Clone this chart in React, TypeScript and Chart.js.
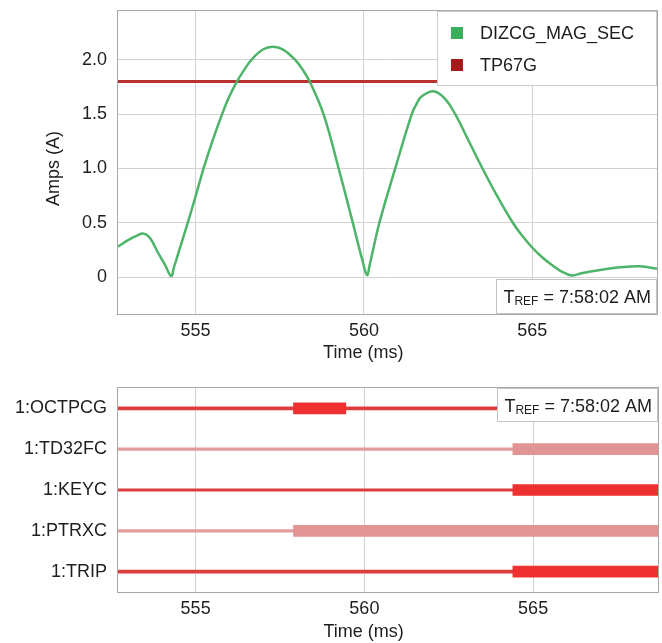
import React, { useEffect, useRef } from "react";
import { Chart, registerables } from "chart.js";

Chart.register(...registerables);

// ---------- data ----------
const timeMs = [
  552.7, 553.0, 553.25, 553.46, 553.65, 553.86, 554.1, 554.28, 554.36, 554.77,
  555.0, 555.24, 555.5, 555.79, 556.0, 556.23, 556.45, 556.66, 557.0, 557.3,
  557.6, 557.96, 558.18, 558.39, 558.8, 559.25, 559.67, 559.95, 560.09, 560.17,
  560.46, 560.93, 561.42, 561.57, 561.72, 562.07, 562.41, 562.71, 563.1, 563.52,
  563.95, 564.42, 564.7, 565.0, 565.3, 565.63, 565.82, 566.17, 566.45, 566.81,
  567.3, 567.8, 568.2, 568.7,
];
const dizcgMagSec = [
  0.28, 0.34, 0.38, 0.4, 0.36, 0.24, 0.11, 0.01, 0.09, 0.5,
  0.74, 1.0, 1.25, 1.5, 1.66, 1.8, 1.91, 2.0, 2.095, 2.12,
  2.095, 2.0, 1.91, 1.8, 1.5, 1.0, 0.5, 0.16, 0.02, 0.11,
  0.5, 1.0, 1.5, 1.6, 1.665, 1.71, 1.64, 1.5, 1.26, 1.0,
  0.75, 0.5, 0.38, 0.27, 0.18, 0.1, 0.06, 0.015, 0.035, 0.055,
  0.08, 0.095, 0.1, 0.077,
];
const tp67gLevel = 1.8;
const seriesNames = ["DIZCG_MAG_SEC", "TP67G"];
const timeRange = [552.7, 568.7];
const timeTicks = [555, 560, 565];
const ampRange = [-0.34, 2.45];
const ampTicks = [0, 0.5, 1.0, 1.5, 2.0];
const signalNames = ["1:OCTPCG", "1:TD32FC", "1:KEYC", "1:PTRXC", "1:TRIP"];
const assertStart = [557.9, 564.4, 564.4, 557.9, 564.4];
const assertEnd = [559.45, 568.7, 568.7, 568.7, 568.7];
const trefTime = "7:58:02 AM";
const xTitle = "Time (ms)";
const yTitle = "Amps (A)";

// ---------- styles ----------
const FONT = "'Liberation Sans', Arial, Helvetica, sans-serif";
const TEXT = "#1e1e1e";
const GRID = "#d2d2d2";
const FRAME = "#a8a8a8";
const GREEN_LINE = "#4db469";
const GREEN_KEY = "#3aae5c";
const RED_LINE = "#b83030";
const RED_KEY = "#a51a1a";
const SIG_RED_THIN = "#dc3d3d";
const SIG_RED_THICK = "#ee3030";
const SIG_PINK_THIN = "#e39c9c";
const SIG_PINK_THICK = "#e29494";
const signalPink = [false, true, false, true, false];
const signalHeavyBase = [true, false, false, false, true];

function drawFrame(ctx: CanvasRenderingContext2D, a: any) {
  ctx.save();
  ctx.strokeStyle = FRAME;
  ctx.lineWidth = 1;
  ctx.strokeRect(Math.round(a.left) - 0.5, Math.round(a.top) - 0.5, Math.round(a.width) + 1, Math.round(a.height) + 1);
  ctx.restore();
}

function drawTref(ctx: CanvasRenderingContext2D, right: number, top: number, h: number) {
  ctx.save();
  const big = `18px ${FONT}`;
  const small = `12px ${FONT}`;
  ctx.font = big;
  const wT = ctx.measureText("T").width;
  const rest = " = " + trefTime;
  const wRest = ctx.measureText(rest).width;
  ctx.font = small;
  const wSub = ctx.measureText("REF").width;
  const w = 7 + wT + wSub + wRest + 6;
  const left = right - w;
  ctx.fillStyle = "#ffffff";
  ctx.fillRect(left, top, w, h);
  ctx.strokeStyle = "#c4c4c4";
  ctx.lineWidth = 1;
  ctx.strokeRect(Math.round(left) + 0.5, Math.round(top) + 0.5, Math.round(w) - 1, Math.round(h) - 1);
  const base = top + h / 2 + 6.5;
  ctx.fillStyle = TEXT;
  ctx.textBaseline = "alphabetic";
  ctx.textAlign = "left";
  ctx.font = big;
  ctx.fillText("T", left + 7, base);
  ctx.font = small;
  ctx.fillText("REF", left + 7 + wT, base + 2);
  ctx.font = big;
  ctx.fillText(rest, left + 7 + wT + wSub, base);
  ctx.restore();
}

function drawXTitle(ctx: CanvasRenderingContext2D, a: any, y: number) {
  ctx.save();
  ctx.fillStyle = TEXT;
  ctx.font = `18px ${FONT}`;
  ctx.textAlign = "center";
  ctx.textBaseline = "middle";
  ctx.fillText(xTitle, a.left + a.width * 0.455, y);
  ctx.restore();
}

const topDecor = {
  id: "topDecor",
  afterDraw(chart: any) {
    const { ctx, chartArea: a } = chart;
    drawFrame(ctx, a);
    drawXTitle(ctx, a, a.bottom + 39);
    ctx.save();
    ctx.fillStyle = TEXT;
    ctx.font = `18px ${FONT}`;
    ctx.textAlign = "center";
    ctx.textBaseline = "middle";
    ctx.translate(54, a.top + a.height * 0.52);
    ctx.rotate(-Math.PI / 2);
    ctx.fillText(yTitle, 0, 0);
    ctx.restore();

    // legend box
    ctx.save();
    ctx.font = `18px ${FONT}`;
    const ds = chart.data.datasets;
    let tw = 0;
    ds.forEach((d: any) => (tw = Math.max(tw, ctx.measureText(d.label).width)));
    const w = 43 + tw + 23;
    const h = 75;
    const left = a.right - w;
    ctx.fillStyle = "#ffffff";
    ctx.fillRect(left, a.top, w, h);
    ctx.strokeStyle = "#cccccc";
    ctx.lineWidth = 1;
    ctx.strokeRect(Math.round(left) + 0.5, Math.round(a.top) + 0.5, Math.round(w) - 1, h - 1);
    ds.forEach((d: any, i: number) => {
      const cy = a.top + 22 + i * 32;
      ctx.fillStyle = d.keyColor;
      ctx.fillRect(left + 14, cy - 6, 12, 12);
      ctx.fillStyle = TEXT;
      ctx.textAlign = "left";
      ctx.textBaseline = "middle";
      ctx.fillText(d.label, left + 43, cy + 1);
    });
    ctx.restore();

    drawTref(ctx, a.right, a.bottom - 35, 35);
  },
};

const bottomDecor = {
  id: "bottomDecor",
  afterDraw(chart: any) {
    const { ctx, chartArea: a } = chart;
    drawFrame(ctx, a);
    drawXTitle(ctx, a, a.bottom + 40);
    drawTref(ctx, a.right, a.top, 34);
  },
};

const tickFont = { family: FONT, size: 18 };

const fixYWidth = (s: any) => {
  s.width = 118;
  s.paddingTop = 0;
  s.paddingBottom = 0;
};

function TopChart() {
  const ref = useRef<HTMLCanvasElement>(null);
  useEffect(() => {
    const chart = new Chart(ref.current as HTMLCanvasElement, {
      type: "line",
      data: {
        datasets: [
          {
            label: seriesNames[0],
            data: timeMs.map((t, i) => ({ x: t, y: dizcgMagSec[i] })),
            borderColor: GREEN_LINE,
            keyColor: GREEN_KEY,
            borderWidth: 2.5,
            pointRadius: 0,
            tension: 0.4,
            fill: false,
          } as any,
          {
            label: seriesNames[1],
            data: [
              { x: timeRange[0], y: tp67gLevel },
              { x: timeRange[1], y: tp67gLevel },
            ],
            borderColor: RED_LINE,
            keyColor: RED_KEY,
            borderWidth: 3,
            pointRadius: 0,
            fill: false,
          } as any,
        ],
      },
      options: {
        animation: false,
        responsive: false,
        layout: { padding: { left: 0, right: 5, top: 11, bottom: 0 } },
        plugins: { legend: { display: false }, tooltip: { enabled: false } },
        scales: {
          x: {
            type: "linear",
            min: timeRange[0],
            max: timeRange[1],
            afterBuildTicks: (s: any) => {
              s.ticks = timeTicks.map((v) => ({ value: v }));
            },
            afterFit: (s: any) => {
              s.height = 51;
            },
            grid: { color: GRID, drawTicks: false },
            border: { display: false },
            ticks: { font: tickFont, color: TEXT, padding: 6, maxRotation: 0, callback: (v: any) => String(v) },
          },
          y: {
            type: "linear",
            min: ampRange[0],
            max: ampRange[1],
            afterBuildTicks: (s: any) => {
              s.ticks = ampTicks.map((v) => ({ value: v }));
            },
            afterFit: fixYWidth,
            grid: { color: GRID, drawTicks: false },
            border: { display: false },
            ticks: {
              font: tickFont,
              color: TEXT,
              padding: 11,
              callback: (v: any) => (v === 0 ? "0" : Number(v).toFixed(1)),
            },
          },
        },
      },
      plugins: [topDecor],
    } as any);
    return () => chart.destroy();
  }, []);
  return <canvas ref={ref} width={662} height={365} style={{ display: "block" }} />;
}

function BottomChart() {
  const ref = useRef<HTMLCanvasElement>(null);
  useEffect(() => {
    const baseColors = signalPink.map((p) => (p ? SIG_PINK_THIN : SIG_RED_THIN));
    const chart = new Chart(ref.current as HTMLCanvasElement, {
      type: "bar",
      data: {
        labels: signalNames,
        datasets: [
          {
            label: "asserted",
            data: assertStart.map((s, i) => [s, assertEnd[i]]),
            backgroundColor: signalPink.map((p) => (p ? SIG_PINK_THICK : SIG_RED_THICK)),
            barThickness: 11,
            grouped: false,
            borderWidth: 0,
            borderSkipped: false,
          } as any,
          {
            label: "deasserted (heavy)",
            data: signalNames.map((_, i) => (signalHeavyBase[i] ? [timeRange[0], timeRange[1]] : null)),
            backgroundColor: baseColors,
            barThickness: 3,
            grouped: false,
            borderWidth: 0,
            borderSkipped: false,
          } as any,
          {
            label: "deasserted",
            data: signalNames.map((_, i) => (signalHeavyBase[i] ? null : [timeRange[0], timeRange[1]])),
            backgroundColor: baseColors,
            barThickness: 2.5,
            grouped: false,
            borderWidth: 0,
            borderSkipped: false,
          } as any,
        ],
      },
      options: {
        animation: false,
        responsive: false,
        indexAxis: "y",
        layout: { padding: { left: 0, right: 4, top: 23, bottom: 0 } },
        plugins: { legend: { display: false }, tooltip: { enabled: false } },
        scales: {
          x: {
            type: "linear",
            min: timeRange[0],
            max: timeRange[1],
            afterBuildTicks: (s: any) => {
              s.ticks = timeTicks.map((v) => ({ value: v }));
            },
            afterFit: (s: any) => {
              s.height = 51;
            },
            grid: { color: GRID, drawTicks: false },
            border: { display: false },
            ticks: { font: tickFont, color: TEXT, padding: 6, maxRotation: 0, callback: (v: any) => String(v) },
          },
          y: {
            type: "category",
            afterFit: fixYWidth,
            grid: { display: false, drawTicks: false },
            border: { display: false },
            ticks: { font: tickFont, color: TEXT, padding: 11 },
          },
        },
      },
      plugins: [bottomDecor],
    } as any);
    return () => chart.destroy();
  }, []);
  return <canvas ref={ref} width={662} height={278} style={{ display: "block" }} />;
}

export default function App() {
  return (
    <div style={{ position: "absolute", left: 0, top: 0, width: 662, height: 643, background: "#ffffff" }}>
      <TopChart />
      <BottomChart />
    </div>
  );
}
